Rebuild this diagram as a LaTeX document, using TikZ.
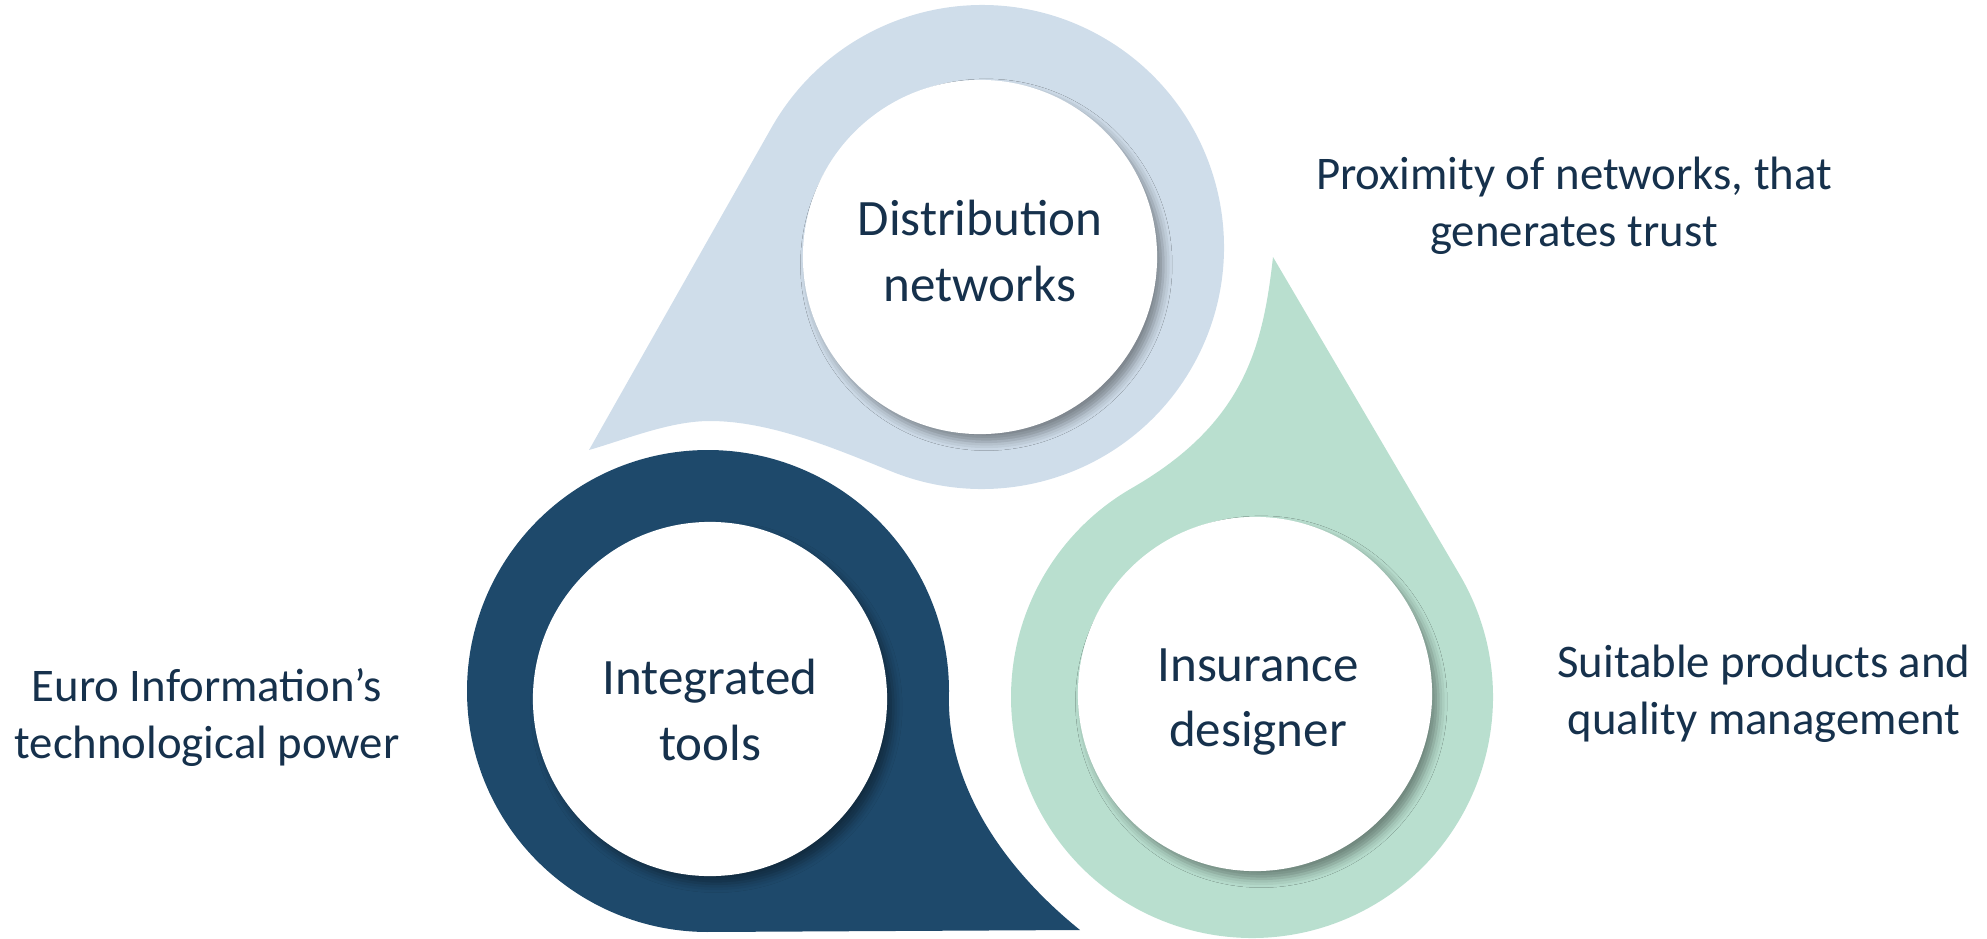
\documentclass[tikz,border=0pt]{standalone}
\usepackage{fontspec}
\setmainfont{Carlito}
\usepackage{tikz}
\usetikzlibrary{calc,shadows.blur}
\definecolor{dropblue}{RGB}{207,221,234}
\definecolor{dropnavy}{RGB}{30,73,107}
\definecolor{dropgreen}{RGB}{185,223,207}
\definecolor{txtnavy}{RGB}{22,49,76}
\tikzset{
  hole/.style={circle, fill=white, minimum size=3.54cm, inner sep=0pt,
    blur shadow={shadow xshift=1.8pt, shadow yshift=-2.2pt, shadow blur radius=2.5pt, shadow opacity=40}},
  title/.style={align=center, text=txtnavy, font=\fontsize{14.5}{18.6}\selectfont},
  note/.style={align=center, text=txtnavy, font=\fontsize{13.3}{16.2}\selectfont},
}

\begin{document}
\begin{tikzpicture}[x=0.01cm,y=-0.01cm]
    \useasboundingbox (0,0) rectangle (1987,939);
    %CENTRES AND TIPS
    \coordinate (Lc) at (982,247);
    \coordinate (Dc) at (708,691);
    \coordinate (Gc) at (1252,697);
    \coordinate (Ltip) at (589,450);
    \coordinate (Dtip) at (1080,930);
    \coordinate (Gtip) at (1273,257);
    %BLUE DROP
    \fill[dropblue] (Ltip) -- ([shift={(209.5:242)}]Lc) arc[start angle=209.5, end angle=472, radius=242]
        .. controls (835,448.5) and (770,421) .. (710,421)
        .. controls (670,421) and (627,439) .. (Ltip) -- cycle;
    %NAVY DROP
    \fill[dropnavy] (Dtip) -- ([shift={(89.5:241)}]Dc) arc[start angle=89.5, end angle=362, radius=241]
        .. controls (949,799) and (1018,880) .. (Dtip) -- cycle;
    %GREEN DROP
    \fill[dropgreen] (Gtip) -- ([shift={(329.5:241)}]Gc) arc[start angle=329.5, end angle=600.1, radius=241]
        .. controls (1245,423) and (1263,346) .. (Gtip) -- cycle;
    %WHITE CIRCLES
    \node[hole] (distnet) at (980,257) {};
    \node[hole] (inttools) at (710,699) {};
    \node[hole] (insdesign) at (1255,694) {};
    \node[title] (distlbl) at (980,251) {Distribution\\networks};
    \node[title] (intlbl) at (710,710) {Integrated\\tools};
    \node[title] (inslbl) at (1258,702) {Insurance\\designer};
    %NOTES
    \node[note] (proxnote) at (1574,206) {Proximity of networks, that\\generates trust};
    \node[note] (euronote) at (207,718) {Euro Information’s\\technological power};
    \node[note] (suitnote) at (1764,694) {Suitable products and\\quality management};
\end{tikzpicture}
\end{document}
